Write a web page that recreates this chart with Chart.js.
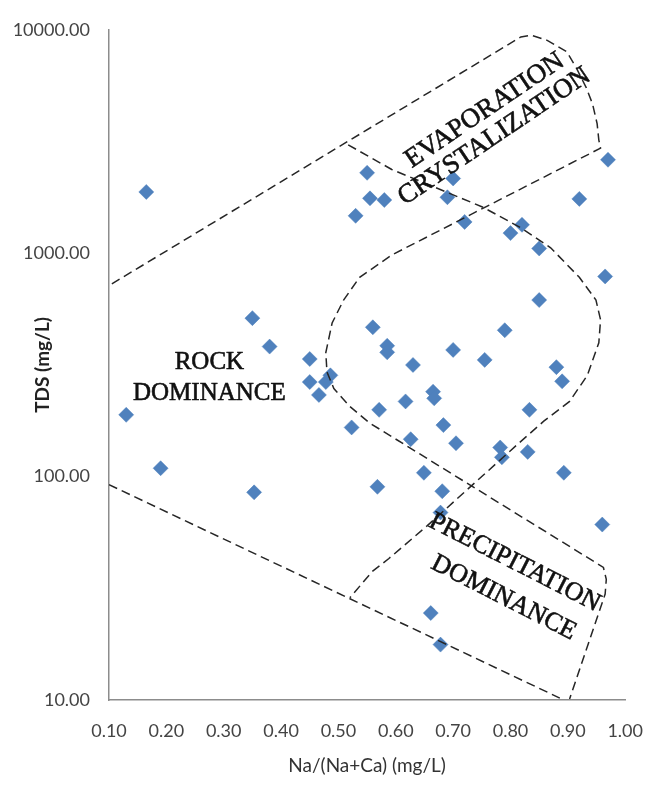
<!DOCTYPE html>
<html>
<head>
<meta charset="utf-8">
<script src="https://cdn.jsdelivr.net/npm/chart.js@4.4.1/dist/chart.umd.min.js"></script>
<style>
  html, body { margin: 0; padding: 0; background: #fff; }
  #wrap { width: 663px; height: 787px; }
</style>
</head>
<body>
<div id="wrap"><canvas id="grafico" width="663" height="787"></canvas></div>
<script>
// 1. Datos de las muestras
const ratioNa = [0.165, 0.53, 0.55, 0.555, 0.58, 0.70, 0.69, 0.72, 0.80, 0.82, 0.85, 0.92, 0.97, 0.965,
    0.85, 0.79, 0.56, 0.585, 0.585, 0.70, 0.755, 0.63, 0.88, 0.89, 0.35, 0.38, 0.45, 0.45, 0.478,
    0.466, 0.486, 0.13, 0.523, 0.571, 0.617, 0.665, 0.667, 0.833, 0.683, 0.626, 0.705, 0.782, 0.785,
    0.83, 0.893, 0.649, 0.568, 0.681, 0.678, 0.96, 0.19, 0.353, 0.661, 0.678];
const tds = [1880, 1470, 2290, 1760, 1730, 2160, 1780, 1380, 1230, 1340, 1050, 1750, 2620, 787,
    617, 452, 466, 385, 360, 369, 333, 316, 309, 267, 512, 382, 336, 265, 265,
    232, 284, 189, 166, 199, 217, 240, 224, 199, 170, 147, 141, 135, 122,
    129, 104, 104, 90, 86, 69, 61, 109, 85, 24.5, 17.7];

const xTicks = [0.1, 0.2, 0.3, 0.4, 0.5, 0.6, 0.7, 0.8, 0.9, 1.0];
const yTicks = [10, 100, 1000, 10000];

// Limites del diagrama de Gibbs
const limiteAX = [0.105, 0.818, 0.837, 0.864, 0.898, 0.915, 0.932, 0.943, 0.951, 0.954, 0.957, 0.593,
    0.537, 0.509, 0.489, 0.478, 0.48, 0.492, 0.52, 0.554, 0.952, 0.962, 0.967, 0.965, 0.903];
const limiteAY = [729, 9290, 9450, 8970, 7980, 6730, 5510, 4660, 3800, 3210, 2953, 982,
    780, 617, 487, 359, 294, 248, 206, 174, 40.7, 39.2, 34.7, 29.8, 10.1];
const limiteBX = [0.517, 0.593, 0.751, 0.819, 0.87, 0.92, 0.949, 0.957, 0.954, 0.934, 0.903, 0.858,
    0.813, 0.723, 0.655, 0.588, 0.559, 0.52];
const limiteBY = [3055, 2370, 1611, 1295, 1057, 780, 617, 503, 397, 284, 217, 177,
    140, 86.7, 60.3, 43, 37.6, 28.7];
const limiteCX = [0.1, 0.886];
const limiteCY = [92, 10.2];

const regiones = [
    { texto: 'ROCK', x: 0.275, y: 324, angulo: 0, tam: 25 },
    { texto: 'DOMINANCE', x: 0.275, y: 236, angulo: 0, tam: 25 },
    { texto: 'EVAPORATION', x: 0.755, y: 4350, angulo: -34, tam: 27 },
    { texto: 'CRYSTALIZATION', x: 0.772, y: 3330, angulo: -34, tam: 27 },
    { texto: 'PRECIPITATION', x: 0.807, y: 41.2, angulo: 27, tam: 26 },
    { texto: 'DOMINANCE', x: 0.788, y: 28.7, angulo: 27, tam: 26 }
];

// 2. Funciones
function puntos(xs, ys) {
    return xs.map((v, i) => ({ x: v, y: ys[i] }));
}

function limite(xs, ys) {
    return {
        data: puntos(xs, ys),
        showLine: true,
        pointRadius: 0,
        borderColor: '#262626',
        borderWidth: 1.5,
        borderDash: [9, 5],
        tension: 0,
        order: 0
    };
}

const textoRegiones = {
    id: 'textoRegiones',
    afterDatasetsDraw(chart) {
        const { ctx, scales: { x, y } } = chart;
        ctx.save();
        ctx.fillStyle = '#111';
        ctx.strokeStyle = '#111';
        ctx.lineWidth = 0.6;
        ctx.textAlign = 'center';
        ctx.textBaseline = 'middle';
        regiones.forEach(r => {
            ctx.save();
            ctx.font = r.tam + 'px "Liberation Serif"';
            ctx.translate(x.getPixelForValue(r.x), y.getPixelForValue(r.y));
            ctx.rotate(r.angulo * Math.PI / 180);
            ctx.fillText(r.texto, 0, 0);
            ctx.strokeText(r.texto, 0, 0);
            ctx.restore();
        });
        ctx.restore();
    }
};

// 3. Grafico
window.onload = function () {
    const ctx = document.getElementById('grafico');

    new Chart(ctx, {
        type: 'scatter',
        data: {
            datasets: [
                limite(limiteAX, limiteAY),
                limite(limiteBX, limiteBY),
                limite(limiteCX, limiteCY),
                {
                    data: puntos(ratioNa, tds),
                    pointStyle: 'rectRot',
                    pointRadius: 7.5,
                    backgroundColor: '#4f81bd',
                    borderColor: '#4f81bd',
                    borderWidth: 0.5,
                    order: 1
                }
            ]
        },
        options: {
            responsive: false,
            animation: false,
            layout: { padding: { left: 0, right: 22, top: 18, bottom: 10 } },
            plugins: {
                legend: { display: false },
                tooltip: { enabled: false }
            },
            scales: {
                x: {
                    type: 'linear',
                    min: 0.1,
                    max: 1.0,
                    grid: { display: false, drawTicks: false },
                    border: { display: true, color: '#8c8c8c', width: 1.5 },
                    afterBuildTicks: s => { s.ticks = xTicks.map(v => ({ value: v })); },
                    afterFit: s => { s.height = 77; },
                    ticks: {
                        padding: 20,
                        autoSkip: false,
                        maxRotation: 0,
                        color: '#444',
                        font: { family: 'Lato', size: 18 },
                        callback: v => Number(v).toFixed(2)
                    },
                    title: {
                        display: true,
                        text: 'Na/(Na+Ca) (mg/L)',
                        color: '#333',
                        font: { family: 'Lato', size: 19 },
                        padding: { top: 10, bottom: 0 }
                    }
                },
                y: {
                    type: 'logarithmic',
                    min: 10,
                    max: 10000,
                    grid: { display: false, drawTicks: false },
                    border: { display: true, color: '#8c8c8c', width: 1.5 },
                    afterBuildTicks: s => { s.ticks = yTicks.map(v => ({ value: v })); },
                    afterFit: s => { s.width = 109; },
                    ticks: {
                        padding: 19,
                        autoSkip: false,
                        color: '#444',
                        font: { family: 'Lato', size: 18 },
                        callback: v => Number(v).toFixed(2)
                    },
                    title: {
                        display: true,
                        text: 'TDS (mg/L)',
                        color: '#222',
                        font: { family: 'Lato', size: 19, weight: 'bold' },
                        padding: { top: 31, bottom: 31 }
                    }
                }
            }
        },
        plugins: [textoRegiones]
    });
};
</script>
</body>
</html>
